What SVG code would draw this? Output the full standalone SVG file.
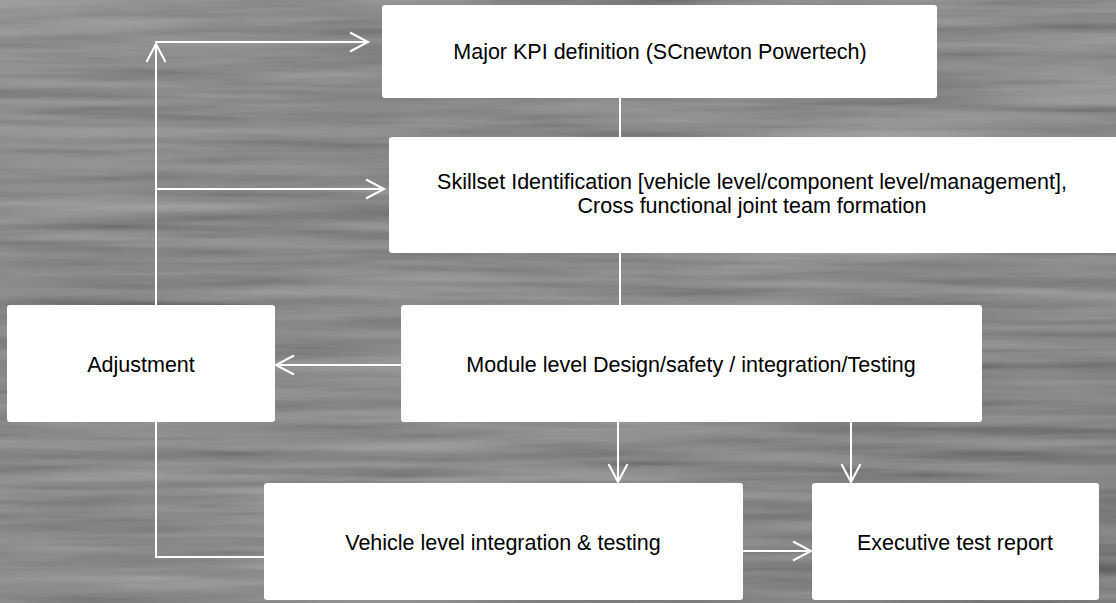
<svg xmlns="http://www.w3.org/2000/svg" width="1116" height="603" viewBox="0 0 1116 603">
<style>
.box{fill:#fff;}
.lbl{font-family:"Liberation Sans",Arial,sans-serif;font-size:21.5px;fill:#000;text-anchor:middle;dominant-baseline:central;}
.ln{stroke:#fff;stroke-width:2;fill:none;}
.ar{marker-end:url(#arr);}
</style>
<defs>
<linearGradient id="bg" x1="0" y1="0" x2="1" y2="1">
<stop offset="0" stop-color="#6a6a6a"/>
<stop offset="0.3" stop-color="#525252"/>
<stop offset="0.55" stop-color="#606060"/>
<stop offset="0.8" stop-color="#4e4e4e"/>
<stop offset="1" stop-color="#3c3c3c"/>
</linearGradient>
<filter id="grain" x="0" y="0" width="100%" height="100%">
<feTurbulence type="fractalNoise" baseFrequency="0.004 0.08" numOctaves="4" seed="4"/>
<feColorMatrix type="matrix" values="0.5 0.5 0 0 0  0.5 0.5 0 0 0  0.5 0.5 0 0 0  0 0 0 0 0.5"/>
</filter>
<marker id="arr" markerUnits="userSpaceOnUse" markerWidth="22" markerHeight="22" viewBox="0 0 22 22" refX="19" refY="11" orient="auto">
<path d="M1,1.5 L19,11 L1,20.5" fill="none" stroke="#fff" stroke-width="2"/>
</marker>
</defs>
<rect width="1116" height="603" fill="url(#bg)"/>
<rect width="1116" height="603" filter="url(#grain)"/>
<g id="connectors">
<path class="ln ar" d="M156,305 V44"/>
<path class="ln ar" d="M155,42 H368"/>
<path class="ln ar" d="M156,189 H384"/>
<path class="ln" d="M620,98 V137"/>
<path class="ln" d="M620,253 V305"/>
<path class="ln ar" d="M401,365 H276"/>
<path class="ln" d="M156,422 V557 H264"/>
<path class="ln ar" d="M618,421 V482"/>
<path class="ln ar" d="M851,421 V482"/>
<path class="ln ar" d="M743,551 H811"/>
</g>
<g id="kpi">
<rect class="box" x="382" y="5" width="555" height="93" rx="3"/>
<text class="lbl" x="660" y="52">Major KPI definition (SCnewton Powertech)</text>
</g>
<g id="skillset">
<rect class="box" x="389" y="137" width="730" height="116" rx="3"/>
<text class="lbl" x="752" y="182">Skillset Identification [vehicle level/component level/management],</text>
<text class="lbl" x="752" y="206">Cross functional joint team formation</text>
</g>
<g id="adjustment">
<rect class="box" x="7" y="305" width="268" height="117" rx="3"/>
<text class="lbl" x="141" y="365">Adjustment</text>
</g>
<g id="module">
<rect class="box" x="401" y="305" width="581" height="117" rx="3"/>
<text class="lbl" x="691" y="365">Module level Design/safety / integration/Testing</text>
</g>
<g id="vehicle">
<rect class="box" x="264" y="483" width="479" height="117" rx="3"/>
<text class="lbl" x="503" y="543">Vehicle level integration &amp; testing</text>
</g>
<g id="executive">
<rect class="box" x="812" y="483" width="287" height="117" rx="3"/>
<text class="lbl" x="955" y="543">Executive test report</text>
</g>
</svg>
